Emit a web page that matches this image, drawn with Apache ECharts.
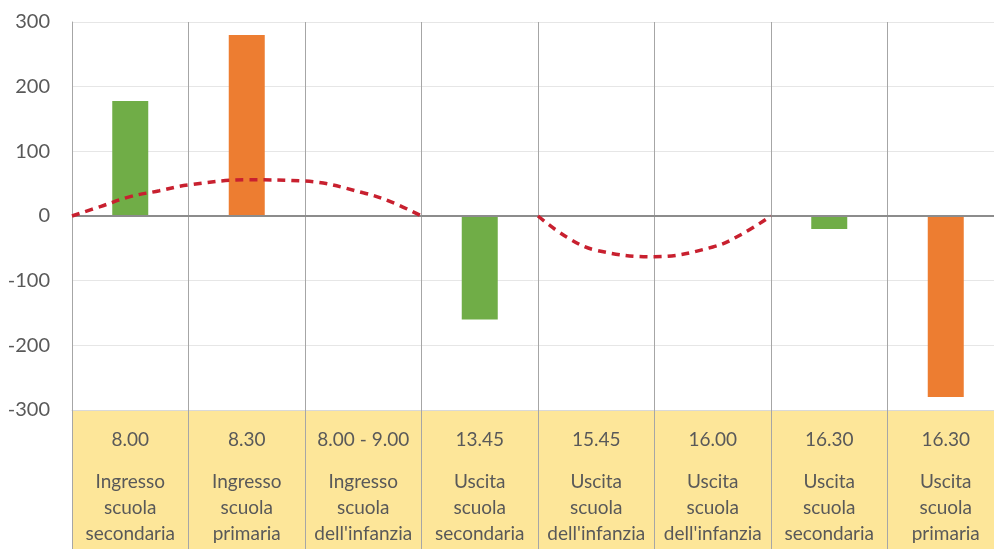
<!DOCTYPE html>
<html>
<head>
<meta charset="utf-8">
<script src="https://cdn.jsdelivr.net/npm/echarts@6/dist/echarts.min.js"></script>
<style>
  html, body { margin: 0; padding: 0; background: #fff; }
  #chart { width: 994px; height: 549px; }
</style>
</head>
<body>
<div id="chart"></div>
<script>
// === Data === //
const times = ['8.00', '8.30', '8.00 - 9.00', '13.45', '15.45', '16.00', '16.30', '16.30']
const labels = [
  'Ingresso\nscuola\nsecondaria',
  'Ingresso\nscuola\nprimaria',
  'Ingresso\nscuola\ndell\'infanzia',
  'Uscita\nscuola\nsecondaria',
  'Uscita\nscuola\ndell\'infanzia',
  'Uscita\nscuola\ndell\'infanzia',
  'Uscita\nscuola\nsecondaria',
  'Uscita\nscuola\nprimaria'
]
const greenValues = [178, null, null, -160, null, null, -20, null]
const orangeValues = [null, 280, null, null, null, null, null, -280]
// dashed curves, x measured in category slots from the left edge
const arcUp = [[0, 0], [0.25, 15], [0.5, 30], [0.75, 39], [1, 48], [1.5, 56], [2, 54], [2.5, 36], [2.75, 21], [3, 0]]
const arcDown = [[4, 0], [4.25, -33], [4.5, -53], [5, -63], [5.5, -48], [5.75, -28], [6, 0]]
const yTicks = { min: -300, max: 300, interval: 100 }

const textColor = '#595959'
const font = 'Lato'

const chart = echarts.init(document.getElementById('chart'))

const option = {
  animation: false,
  grid: { left: 72, top: 22, bottom: 139, width: 932, outerBoundsMode: 'none', containLabel: false },
  xAxis: [
    {
      type: 'category',
      data: times.map((t, i) => t + '\n' + labels[i]),
      boundaryGap: true,
      axisLine: { onZero: false, lineStyle: { color: '#D9D9D9' } },
      axisTick: { show: true, length: 139, lineStyle: { color: '#A6A6A6' } },
      splitLine: { show: true, lineStyle: { color: '#A6A6A6' } },
      axisLabel: {
        interval: 0,
        margin: 1,
        formatter: (v) => {
          const parts = v.split('\n')
          return '{t|' + parts[0] + '}\n' + parts.slice(1).map(p => '{d|' + p + '}').join('\n')
        },
        rich: {
          t: { fontFamily: font, fontSize: 19, color: textColor, lineHeight: 58 },
          d: { fontFamily: font, fontSize: 19, color: textColor, lineHeight: 26 }
        }
      }
    },
    {
      type: 'value',
      min: 0,
      max: 8,
      show: false
    }
  ],
  yAxis: {
    type: 'value',
    min: yTicks.min,
    max: yTicks.max,
    interval: yTicks.interval,
    axisLine: { show: true, lineStyle: { color: '#A6A6A6' } },
    axisTick: { show: false },
    splitLine: { lineStyle: { color: '#E6E6E6' } },
    axisLabel: { fontFamily: font, fontSize: 20, color: textColor, margin: 22 }
  },
  graphic: [
    {
      type: 'rect',
      left: 72,
      top: 410,
      z: -10,
      shape: { width: 940, height: 139 },
      style: { fill: '#FDE699' }
    }
  ],
  series: [
    {
      type: 'bar',
      stack: 'a',
      barWidth: 36,
      data: greenValues,
      itemStyle: { color: '#70AD47' },
      markLine: {
        silent: true,
        symbol: 'none',
        label: { show: false },
        lineStyle: { color: '#8C8C8C', width: 2, type: 'solid' },
        data: [{ yAxis: 0 }]
      }
    },
    {
      type: 'bar',
      stack: 'a',
      barWidth: 36,
      data: orangeValues,
      itemStyle: { color: '#ED7D31' }
    },
    {
      type: 'line',
      xAxisIndex: 1,
      data: arcUp,
      smooth: 0.4,
      symbol: 'none',
      z: 5,
      lineStyle: { color: '#C8202F', width: 3.5, type: [8, 6] }
    },
    {
      type: 'line',
      xAxisIndex: 1,
      data: arcDown,
      smooth: 0.4,
      symbol: 'none',
      z: 5,
      lineStyle: { color: '#C8202F', width: 3.5, type: [8, 6] }
    }
  ]
}

chart.setOption(option)
</script>
</body>
</html>
